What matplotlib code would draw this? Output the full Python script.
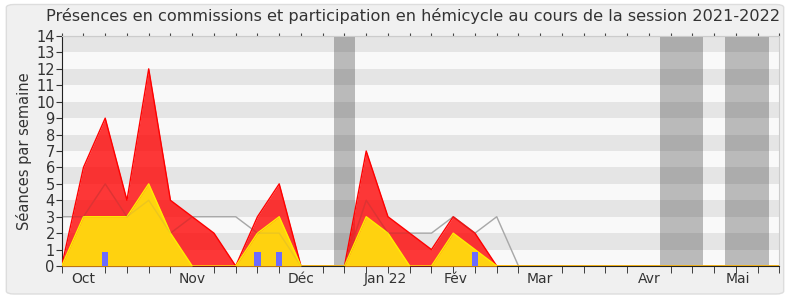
import numpy as np
import matplotlib
matplotlib.use("Agg")
import matplotlib.pyplot as plt
from matplotlib.patches import FancyBboxPatch

# ─── données (une valeur par semaine) ────────────────────────────────────────
weeks = np.arange(34)
commission = [0, 6, 9, 4, 12, 4, 3, 2, 0, 3, 5, 0, 0, 0, 7, 3, 2, 1, 3, 2, 0,
              0, 0, 0, 0, 0, 0, 0, 0, 0, 0, 0, 0, 0]
interventions = [0, 3, 3, 3, 5, 2, 0, 0, 0, 2, 3, 0, 0, 0, 3, 2, 0, 0, 2, 1, 0,
                 0, 0, 0, 0, 0, 0, 0, 0, 0, 0, 0, 0, 0]
mediane = [3, 3, 5, 3, 4, 2, 3, 3, 3, 2, 2, 0, 0, 0, 4, 2, 2, 2, 3, 2, 3,
           0, 0, 0, 0, 0, 0, 0, 0, 0, 0, 0, 0, 0]
hemicycle_weeks = [2, 9, 10, 19]
hemicycle_vals = [0.87, 0.87, 0.87, 0.87]
vacances = [(12.5, 13.5), (27.5, 29.5), (30.5, 32.5)]
month_pos = [1, 6, 11, 14.9, 18.1, 22, 27, 31.1]
month_labels = ["Oct", "Nov", "Déc", "Jan 22", "Fév", "Mar", "Avr", "Mai"]

TXT = "#333333"

fig = plt.figure(figsize=(7.9, 3.0), dpi=100)
fig.patch.set_facecolor("white")
fig.patches.append(FancyBboxPatch((0.008, 0.02), 0.984, 0.965,
                                  boxstyle="round,pad=0,rounding_size=0.01",
                                  transform=fig.transFigure, facecolor="#f0f0f0",
                                  edgecolor="#dddddd", lw=1, zorder=-10))

ax = fig.add_axes([0.0781, 0.1133, 0.9086, 0.7667])
ax.set_xlim(0, 33)
ax.set_ylim(0, 14)

# bandes horizontales
for k in range(14):
    ax.axhspan(k, k + 1, color="#e5e5e5" if k % 2 == 1 else "#f9f9f9",
               lw=0, zorder=0)
# vacances parlementaires
for a, b in vacances:
    ax.axvspan(a, b, color="#2a2a2a", alpha=0.3, lw=0, zorder=1)

ax.plot(weeks, mediane, color="#b0b0b0", lw=1, zorder=2)
ax.fill_between(weeks, commission, color="#ff0000", alpha=0.78, lw=0, zorder=3)
ax.plot(weeks, commission, color="#ff0000", lw=1, zorder=3)
ax.fill_between(weeks, interventions, color="#ffd20f", lw=0, zorder=4)
ax.plot(weeks, interventions, color="#ffee00", lw=1, zorder=4)
# la médiane reste visible en transparence
ax.plot(weeks, mediane, color="#808080", lw=1, alpha=0.15, zorder=4.5)
ax.bar(hemicycle_weeks, hemicycle_vals, width=0.28, color="#6b6bff", zorder=5)

ax.set_yticks(range(15))
ax.tick_params(axis="y", labelsize=10.5, colors=TXT, length=4, pad=1)
ax.set_xticks(weeks, minor=True)
ax.set_xticks(month_pos)
ax.set_xticklabels(month_labels)
ax.tick_params(axis="x", which="major", length=0, labelsize=10, colors=TXT, pad=4)
ax.tick_params(axis="x", which="minor", length=5, color="#222222")

top = ax.secondary_xaxis("top")
top.set_xticks(weeks)
top.set_xticklabels([])
top.tick_params(length=2, color="#444444")
top.spines["top"].set_color("#cccccc")

for side in ("top", "right"):
    ax.spines[side].set_color("#cccccc")
ax.spines["left"].set_color("#222222")
ax.spines["bottom"].set_color("#222222")

ax.set_ylabel("Séances par semaine", fontsize=10.5, color=TXT, labelpad=3)
fig.text(0.523, 0.945, "Présences en commissions et participation en hémicycle "
         "au cours de la session 2021-2022", ha="center", va="center",
         fontsize=11.6, color=TXT)

fig.savefig("out.png", dpi=100, facecolor=fig.get_facecolor())
